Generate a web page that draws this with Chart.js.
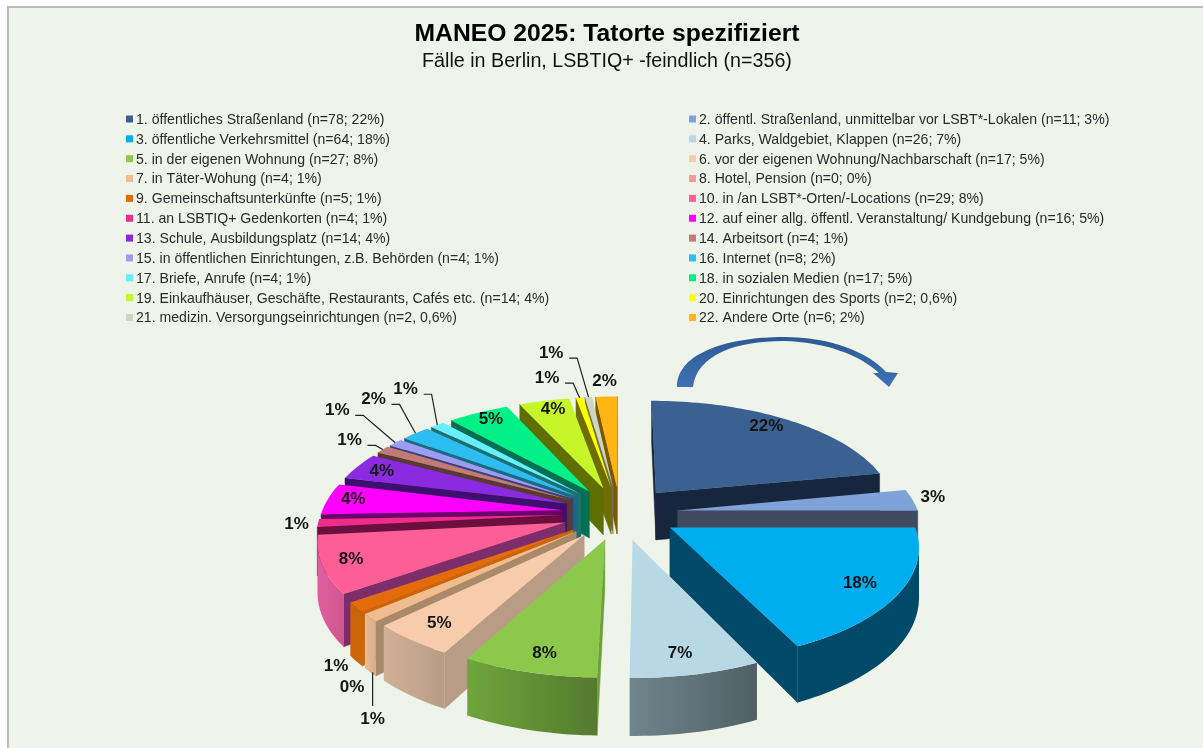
<!DOCTYPE html>
<html>
<head>
<meta charset="utf-8">
<title>MANEO 2025</title>
<script src="https://cdn.jsdelivr.net/npm/chart.js@4"></script>
<style>
  html, body { margin: 0; background: #fff; overflow: hidden; width: 1203px; height: 748px; }
  #frame { position: absolute; left: 7px; top: 6px; width: 1200px; height: 746px; background: #eff4ea;
           border-left: 2px solid #b9bcb8; border-top: 2px solid #b9bcb8; }
  canvas { position: absolute; left: 0; top: 0; }
</style>
</head>
<body>
<div id="frame"></div>
<canvas id="myChart" width="1214" height="748"></canvas>
<script>
const categories = [
    '1. öffentliches Straßenland (n=78; 22%)',
    '2. öffentl. Straßenland, unmittelbar vor LSBT*-Lokalen (n=11; 3%)',
    '3. öffentliche Verkehrsmittel (n=64; 18%)',
    '4. Parks, Waldgebiet, Klappen (n=26; 7%)',
    '5. in der eigenen Wohnung (n=27; 8%)',
    '6. vor der eigenen Wohnung/Nachbarschaft (n=17; 5%)',
    '7. in Täter-Wohung (n=4; 1%)',
    '8. Hotel, Pension (n=0; 0%)',
    '9. Gemeinschaftsunterkünfte (n=5; 1%)',
    '10. in /an LSBT*-Orten/-Locations (n=29; 8%)',
    '11. an LSBTIQ+ Gedenkorten (n=4; 1%)',
    '12. auf einer allg. öffentl. Veranstaltung/ Kundgebung (n=16; 5%)',
    '13. Schule, Ausbildungsplatz (n=14; 4%)',
    '14. Arbeitsort (n=4; 1%)',
    '15. in öffentlichen Einrichtungen, z.B. Behörden (n=4; 1%)',
    '16. Internet (n=8; 2%)',
    '17. Briefe, Anrufe (n=4; 1%)',
    '18. in sozialen Medien (n=17; 5%)',
    '19. Einkaufhäuser, Geschäfte, Restaurants, Cafés etc. (n=14; 4%)',
    '20. Einrichtungen des Sports (n=2; 0,6%)',
    '21. medizin. Versorgungseinrichtungen (n=2, 0,6%)',
    '22. Andere Orte (n=6; 2%)'
];
const cases = [78, 11, 64, 26, 27, 17, 4, 0, 5, 29, 4, 16, 14, 4, 4, 8, 4, 17, 14, 2, 2, 6];
const percentLabels = ['22%', '3%', '18%', '7%', '8%', '5%', '1%', '0%', '1%', '8%', '1%', '4%', '4%', '1%', '1%', '2%', '1%', '5%', '4%', '1%', '1%', '2%'];

const topColors = ['#3a6192', '#7fa3d8', '#00aeef', '#b7d8e4', '#8cc84b', '#f7cbac', '#f0bd90', '#f59a9a', '#e36c0a', '#fb5f96', '#ee2d8b',
    '#ff00ff', '#8a2be2', '#c27a78', '#9d9cf5', '#2dbdf0', '#66efff', '#00f088', '#c6f52a', '#ffff00', '#cfd6c0', '#ffb612'];
const sideColors = ['#17263d', '#3f4a60', '#004968', '#64787e', '#6f9f3a', '#b99c85', '#a88a6a', '#a06060', '#cc6408', '#7d2e6a', '#6b0f3f',
    '#6b006b', '#3f0f70', '#5a3a30', '#3f4070', '#1a6a80', '#1f6e70', '#007050', '#5e6e00', '#6e6e00', '#6e6e55', '#7a5a00'];
// left and right colour of the curved outer wall
const rimColors = [['#17263d', '#17263d'], ['#3f4a60', '#3f4a60'], ['#004968', '#004968'], ['#70868c', '#4f6064'], ['#6fa53c', '#557a2e'],
    ['#d3b097', '#b99c85'], ['#e6bd98', '#d8ae8a'], ['#a06060', '#a06060'], ['#cc6408', '#cc6408'], ['#e0609f', '#d0558f'], ['#b0205f', '#b0205f'],
    ['#c000c0', '#c000c0'], ['#5f1fa0', '#5f1fa0'], ['#8a5a58', '#8a5a58'], ['#6f6fb0', '#6f6fb0'], ['#1a8ab0', '#1a8ab0'], ['#30a0b0', '#30a0b0'],
    ['#00a060', '#00a060'], ['#8ab000', '#8ab000'], ['#b0b000', '#b0b000'], ['#a0a890', '#a0a890'], ['#b08000', '#b08000']];

// where each percent label sits: distance from the pie centre, and turn away from the slice middle (degrees)
const labelRadius = [272, 322, 261, 264, 266, 263, 406, 380, 366, 271, 320, 274, 271, 347, 417, 411, 412, 277, 275, 369, 450, 349];
const labelTurn = [-2.2, -1.2, 0, 1, -0.7, 0.2, -18.6, -14.2, -11.5, 0.5, 0, 0.9, 0.4, 0.4, 4.3, 5, 5.3, 0.9, 0.9, -4.7, -4, 0];
const leaderSlices = [6, 13, 14, 15, 16, 19, 20];

// fake 3D view of the flat pie
const view = { shiftX: 13, tilt: 0.458, perspective: 0.00058, depth: 48 };

const FONT = '"Liberation Sans", Arial, sans-serif';

function project(el, dx, dy) {
    const w = 1 / (1 - view.perspective * dy);
    return { x: el.x + view.shiftX + dx * w, y: el.y + dy * view.tilt * w, w: w };
}

// point of a slice at radius r and angle a, offset taken from the arc element
function slicePoint(el, a, r) {
    const p = el.getProps(['startAngle', 'endAngle']);
    const mid = (p.startAngle + p.endAngle) / 2;
    const off = el.options.offset;
    return project(el, off * Math.cos(mid) + r * Math.cos(a), off * Math.sin(mid) + r * Math.sin(a));
}

function lowered(pt) {
    return { x: pt.x, y: pt.y + view.depth * pt.w };
}

function fillPath(ctx, pts, fill) {
    ctx.beginPath();
    pts.forEach((pt, i) => (i === 0 ? ctx.moveTo(pt.x, pt.y) : ctx.lineTo(pt.x, pt.y)));
    ctx.closePath();
    ctx.fillStyle = fill;
    ctx.fill();
}

function drawWall(ctx, a, b, fill) {
    fillPath(ctx, [a, b, lowered(b), lowered(a)], fill);
    ctx.strokeStyle = fill;
    ctx.lineWidth = 0.5;
    ctx.stroke();
}

function drawSlice(ctx, el, i) {
    const p = el.getProps(['startAngle', 'endAngle', 'outerRadius']);
    const apex = slicePoint(el, p.startAngle, 0);
    const arc = [];
    const steps = Math.max(4, Math.ceil((p.endAngle - p.startAngle) * 40));
    for (let s = 0; s <= steps; s++) {
        arc.push(slicePoint(el, p.startAngle + (p.endAngle - p.startAngle) * s / steps, p.outerRadius));
    }
    const first = arc[0];
    const last = arc[arc.length - 1];

    // walls only show where the clockwise outline runs right to left
    if (first.x < apex.x) drawWall(ctx, apex, first, sideColors[i]);
    if (apex.x < last.x) drawWall(ctx, last, apex, sideColors[i]);

    const run = arc.filter((pt, k) => (k < arc.length - 1 && arc[k + 1].x < pt.x) || (k > 0 && pt.x < arc[k - 1].x));
    if (run.length > 1) {
        const xs = run.map((pt) => pt.x);
        const grad = ctx.createLinearGradient(Math.min(...xs), 0, Math.max(...xs), 0);
        grad.addColorStop(0, rimColors[i][0]);
        grad.addColorStop(1, rimColors[i][1]);
        fillPath(ctx, run.concat(run.map(lowered).reverse()), grad);
    }

    fillPath(ctx, [apex].concat(arc), topColors[i]);
}

function drawLabels(ctx, arcs) {
    ctx.font = 'bold 17px ' + FONT;
    ctx.textAlign = 'center';
    ctx.textBaseline = 'middle';
    arcs.forEach((el, i) => {
        const p = el.getProps(['startAngle', 'endAngle', 'outerRadius']);
        const mid = (p.startAngle + p.endAngle) / 2;
        const turn = labelTurn[i] * Math.PI / 180;
        const pos = project(el, labelRadius[i] * Math.cos(mid + turn), labelRadius[i] * Math.sin(mid + turn));

        if (leaderSlices.includes(i)) {
            const edge = slicePoint(el, mid, p.outerRadius);
            ctx.beginPath();
            if (pos.y > edge.y) {
                // label under the pie: straight line up to the bottom of the wall
                ctx.moveTo(pos.x, lowered(edge).y);
                ctx.lineTo(pos.x, pos.y - 12);
            } else {
                ctx.moveTo(pos.x + 18, pos.y + 6);
                ctx.lineTo(pos.x + 26, pos.y + 6);
                ctx.lineTo(edge.x, edge.y);
            }
            ctx.strokeStyle = '#222';
            ctx.lineWidth = 1.2;
            ctx.stroke();
        }
        ctx.fillStyle = '#141414';
        ctx.fillText(percentLabels[i], pos.x, pos.y + 1);
    });
}

function drawLegend(ctx) {
    ctx.font = '14.1px ' + FONT;
    ctx.textAlign = 'left';
    ctx.textBaseline = 'middle';
    categories.forEach((text, i) => {
        const row = Math.floor(i / 2);
        const y = 119 + row * 19.85;
        const x = i % 2 === 0 ? 126 : 689;
        ctx.fillStyle = topColors[i];
        ctx.fillRect(x, y - 3.5, 7, 7);
        ctx.fillStyle = '#2a2a2a';
        ctx.fillText(text, x + 10, y + 1);
    });
}

function drawArrow(ctx) {
    const grad = ctx.createLinearGradient(0, 337, 0, 387);
    grad.addColorStop(0, '#2c5a94');
    grad.addColorStop(1, '#3f72b4');
    ctx.beginPath();
    ctx.moveTo(677, 387);
    ctx.bezierCurveTo(677, 352, 730, 337, 784, 337);
    ctx.bezierCurveTo(830, 337, 868, 352, 886, 372);
    ctx.lineTo(898, 373);
    ctx.lineTo(889, 387);
    ctx.lineTo(873, 373);
    ctx.lineTo(879, 373);
    ctx.bezierCurveTo(860, 355, 825, 342, 784, 341);
    ctx.bezierCurveTo(735, 341, 697, 355, 693, 387);
    ctx.closePath();
    ctx.fillStyle = grad;
    ctx.fill();
}

const tiltedPie = {
    id: 'tiltedPie',
    beforeDatasetsDraw(chart) {
        const ctx = chart.ctx;
        const arcs = chart.getDatasetMeta(0).data;
        drawLegend(ctx);
        drawArrow(ctx);

        // back slices first so the front ones cover them
        const order = arcs.map((el, i) => i).filter((i) => cases[i] > 0);
        const depthOf = (i) => {
            const p = arcs[i].getProps(['startAngle', 'endAngle']);
            return Math.sin((p.startAngle + p.endAngle) / 2);
        };
        order.sort((a, b) => depthOf(a) - depthOf(b));
        order.forEach((i) => drawSlice(ctx, arcs[i], i));

        drawLabels(ctx, arcs);
        return false;
    }
};

new Chart(document.getElementById('myChart'), {
    type: 'pie',
    data: {
        labels: categories,
        datasets: [{ data: cases, backgroundColor: topColors, borderWidth: 0, offset: 58 }]
    },
    options: {
        responsive: false,
        animation: false,
        radius: 241,
        plugins: {
            legend: { display: false },
            tooltip: { enabled: false },
            title: {
                display: true,
                text: 'MANEO 2025: Tatorte spezifiziert',
                color: '#000',
                font: { family: FONT, size: 24.7, weight: 'bold', lineHeight: 1.1 },
                padding: { top: 21, bottom: 0 }
            },
            subtitle: {
                display: true,
                text: 'Fälle in Berlin, LSBTIQ+ -feindlich (n=356)',
                color: '#111',
                font: { family: FONT, size: 19.7, weight: 'normal' },
                padding: { top: 2, bottom: 204.4 }
            }
        }
    },
    plugins: [tiltedPie]
});
</script>
</body>
</html>
